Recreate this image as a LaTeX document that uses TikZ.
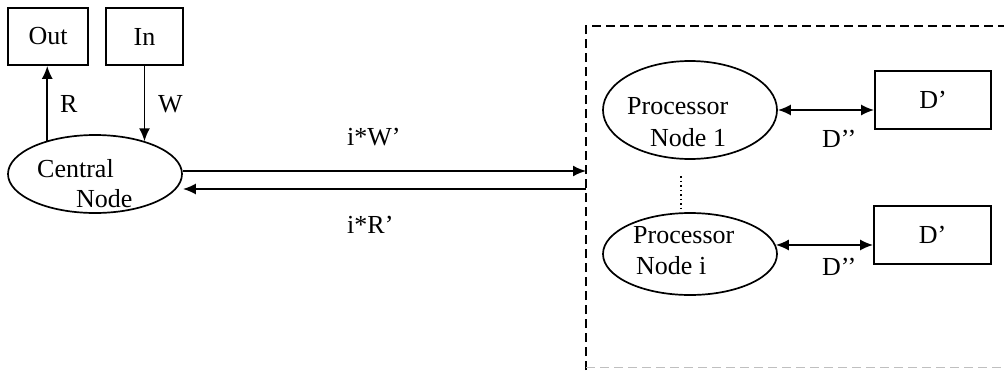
\documentclass[tikz,border=0pt]{standalone}
\usepackage{fontspec}
\setmainfont{Liberation Serif}
\usetikzlibrary{shapes.geometric,arrows.meta}
\begin{document}
\begin{tikzpicture}[x=1pt,y=-1pt,
  every node/.style={font=\fontsize{26}{29}\selectfont, inner sep=0pt},
  box/.style={draw, line width=1.7pt, rectangle},
  oval/.style={draw, line width=1.7pt, ellipse},
  txt/.style={anchor=base west},
  tip/.style={Latex[length=13pt,width=11pt]},
  conn/.style={line width=1.8pt, -{Latex[length=13pt,width=11pt]}},
  dconn/.style={line width=1.8pt, {Latex[length=13pt,width=11pt]}-{Latex[length=13pt,width=11pt]}},
  frame/.style={line width=1.5pt, dash pattern=on 9pt off 5pt},
  dots/.style={line width=1.3pt, dash pattern=on 1.5pt off 3pt}]
\useasboundingbox (0,0) rectangle (1004,370);

% boxes
\node[box, minimum width=80pt, minimum height=57pt] (out) at (48,36.5) {Out};
\node[box, minimum width=77pt, minimum height=57pt] (in) at (144.5,36.5) {In};
\node[box, minimum width=116pt, minimum height=58pt] (d1) at (933,100) {D’};
\node[box, minimum width=117pt, minimum height=58pt] (d2) at (932.5,235) {D’};

% ellipses
\node[oval, minimum width=174pt, minimum height=78pt] (central) at (95,174) {};
\node[txt] (centrala) at (37,177) {Central};
\node[txt] (centralb) at (76,207) {Node};

\node[oval, minimum width=174pt, minimum height=98pt] (p1) at (690,110) {};
\node[txt] (p1a) at (627,114) {Processor};
\node[txt] (p1b) at (650,146) {Node 1};

\node[oval, minimum width=174pt, minimum height=82pt] (pi) at (690,254) {};
\node[txt] (pia) at (633,243) {Processor};
\node[txt] (pib) at (636,274) {Node i};

% frame
\draw[frame] (586,370) -- (586,26) -- (1010,26);
\draw[frame, black!25] (586,367.5) -- (1010,367.5);

% left connectors
\draw[conn] (central.145) -- (central.145 |- out.south);
\node[txt] (rl) at (60,112) {R};
\draw[conn] (in.south) -- (in.south |- central.33);
\node[txt] (wl) at (158,112) {W};

% horizontal connectors
\coordinate (fw) at (586,171);
\coordinate (fr) at (586,189);
\draw[conn] (central.east |- fw) -- (fw);
\draw[conn] (fr) -- (central.east |- fr);
\node[txt] (iw) at (347,145) {i*W’};
\node[txt] (ir) at (347,233) {i*R’};

% processor connectors
\draw[dconn] (p1.east) -- (p1.east -| d1.west);
\node[txt] (dd1) at (822,147) {D’’};
\draw[dconn] (pi.6) -- (pi.6 -| d2.west);
\node[txt] (dd2) at (822,275) {D’’};

% dotted
\coordinate (dt) at (681,176);
\coordinate (db) at (681,210);
\draw[dots] (dt) -- (db);
\end{tikzpicture}
\end{document}
